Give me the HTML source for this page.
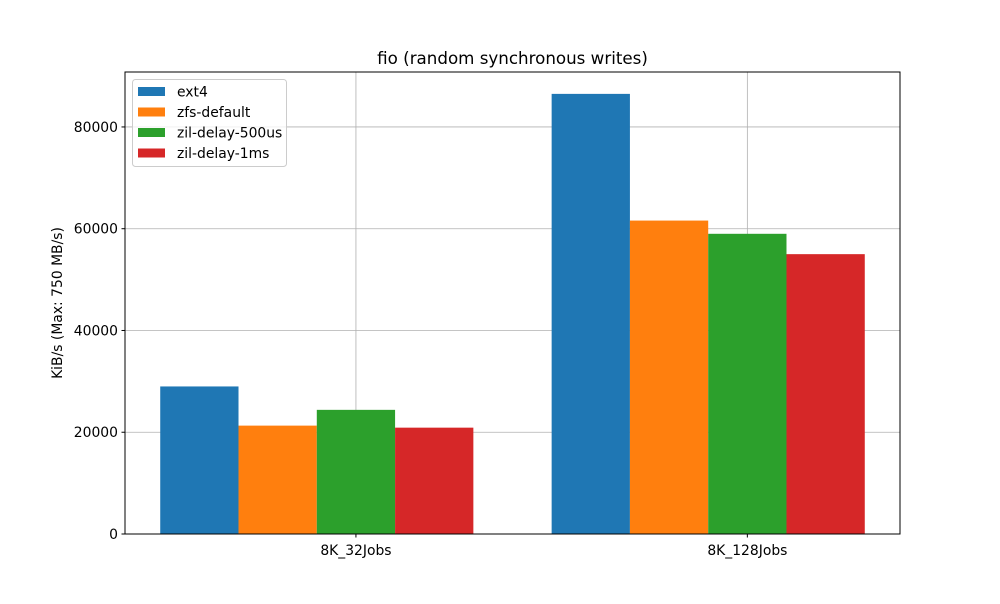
<!DOCTYPE html>
<html><head><meta charset="utf-8"><style>
body{margin:0;background:#fff;font-family:"DejaVu Sans","Liberation Sans",sans-serif;}
text{font-family:"DejaVu Sans","Liberation Sans",sans-serif;}
</style></head><body>
<svg id="chart" width="1000" height="600" xmlns="http://www.w3.org/2000/svg"></svg>
<script>
const categories = ["8K_32Jobs", "8K_128Jobs"];
const seriesNames = ["ext4", "zfs-default", "zil-delay-500us", "zil-delay-1ms"];
const ext4 = [29000, 86500];
const zfsDefault = [21300, 61600];
const zil500us = [24400, 59000];
const zil1ms = [20900, 55000];
const yTicks = [0, 20000, 40000, 60000, 80000];
const seriesValues = [ext4, zfsDefault, zil500us, zil1ms];
const colors = ["#1f77b4", "#ff7f0e", "#2ca02c", "#d62728"];

const svg = document.getElementById('chart');
const NS = "http://www.w3.org/2000/svg";
const L = 125, R = 900, T = 72, B = 534;
const xMin = -0.59, xMax = 1.39, yMax = 90800;
const FS = 13.9;
const xs = v => L + (v - xMin) / (xMax - xMin) * (R - L);
const ys = v => B - v / yMax * (B - T);
function mk(tag, attrs, txt) {
  const e = document.createElementNS(NS, tag);
  for (const k in attrs) e.setAttribute(k, attrs[k]);
  if (txt !== undefined) e.textContent = txt;
  svg.appendChild(e);
  return e;
}
let e;
e = mk('rect', {x: L, y: T, width: R - L, height: B - T, fill: '#fff'});


yTicks.forEach(t => {
  e = mk('line', {x1: L, x2: R, y1: ys(t), y2: ys(t), stroke: '#b0b0b0', 'stroke-width': 0.8});
  
  
});
categories.forEach((c, i) => {
  e = mk('line', {x1: xs(i), x2: xs(i), y1: T, y2: B, stroke: '#b0b0b0', 'stroke-width': 0.8});
  
  
});
const w = 0.2;
seriesValues.forEach((vals, k) => {
  vals.forEach((v, i) => {
    const x0 = i - 0.5 + k * w;
    e = mk('rect', {x: xs(x0), y: ys(v), width: xs(x0 + w) - xs(x0), height: ys(0) - ys(v), fill: colors[k]});
    
    
  });
});
e = mk('rect', {x: L, y: T, width: R - L, height: B - T, fill: 'none', stroke: '#000', 'stroke-width': 1});


yTicks.forEach(t => {
  e = mk('line', {x1: L - 3.5, x2: L, y1: ys(t), y2: ys(t), stroke: '#000'});
  
  
  e = mk('text', {x: L - 7, y: ys(t) + 5, 'text-anchor': 'end', 'font-size': FS}, String(t));
  
  
});
categories.forEach((c, i) => {
  e = mk('line', {x1: xs(i), x2: xs(i), y1: B, y2: B + 3.5, stroke: '#000'});
  
  
  e = mk('text', {x: xs(i), y: B + 21, 'text-anchor': 'middle', 'font-size': FS}, c);
  
  
});
e = mk('text', {x: 62, y: (T + B) / 2, 'text-anchor': 'middle', 'font-size': FS, transform: 'rotate(-90 62 ' + (T + B) / 2 + ')'}, 'KiB/s (Max: 750 MB/s)');


e = mk('text', {x: (L + R) / 2, y: 64, 'text-anchor': 'middle', 'font-size': 16.7}, 'fio (random synchronous writes)');


e = mk('rect', {x: 132.5, y: 79.5, width: 154, height: 87, rx: 3, fill: '#fff', 'fill-opacity': 0.8, stroke: '#cccccc'});


seriesNames.forEach((n, k) => {
  const yy = 91 + k * 20.5;
  e = mk('rect', {x: 138, y: yy - 4, width: 27, height: 9, fill: colors[k]});
  
  
  e = mk('text', {x: 177, y: yy + 5.5, 'font-size': FS}, n);
  
  
});
</script>
</body></html>
